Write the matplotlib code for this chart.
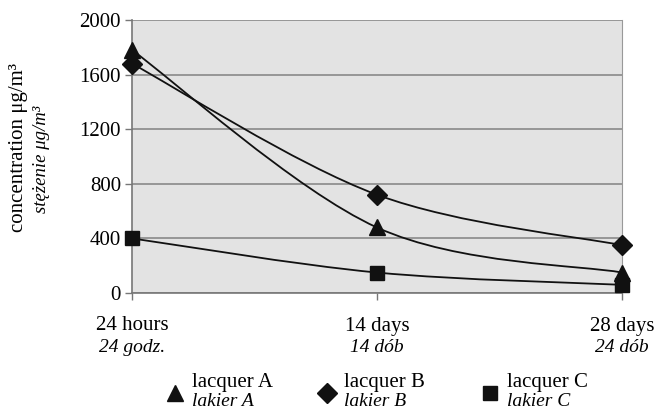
import matplotlib
matplotlib.use("Agg")
import matplotlib.pyplot as plt
from matplotlib.path import Path
from matplotlib.patches import PathPatch
from matplotlib.lines import Line2D

plt.rcParams['font.family'] = ['Liberation Serif', 'DejaVu Serif']

times = ["24 hours", "14 days", "28 days"]
times_pl = ["24 godz.", "14 dób", "24 dób"]
lacquer_a = [1780, 480, 150]
lacquer_b = [1680, 720, 350]
lacquer_c = [400, 150, 60]
names = ["lacquer A", "lacquer B", "lacquer C"]
names_pl = ["lakier A", "lakier B", "lakier C"]
markers = ["^", "D", "s"]
msizes = [12, 10, 10]


def smooth_path(xs, ys):
    # excel-style smoothed line: bezier segments with catmull-rom control points
    pts = list(zip(xs, ys))
    verts = [pts[0]]
    codes = [Path.MOVETO]
    for i in range(len(pts) - 1):
        p0 = pts[i - 1] if i > 0 else pts[i]
        p1 = pts[i]
        p2 = pts[i + 1]
        p3 = pts[i + 2] if i + 2 < len(pts) else pts[i + 1]
        c1 = (p1[0] + (p2[0] - p0[0]) / 6, p1[1] + (p2[1] - p0[1]) / 6)
        c2 = (p2[0] - (p3[0] - p1[0]) / 6, p2[1] - (p3[1] - p1[1]) / 6)
        verts += [c1, c2, p2]
        codes += [Path.CURVE4] * 3
    return Path(verts, codes)


fig = plt.figure(figsize=(6.57, 4.12), dpi=100)
ax = fig.add_axes([0.2009, 0.2888, 0.7458, 0.6627])
ax.set_facecolor('#e3e3e3')

x = list(range(len(times)))
for series, m, ms in zip([lacquer_a, lacquer_b, lacquer_c], markers, msizes):
    ax.add_patch(PathPatch(smooth_path(x, series), fill=False, edgecolor='#111111',
                           lw=1.3, zorder=3))
    ax.plot(x, series, linestyle='none', marker=m, markersize=ms, color='#111111',
            clip_on=False, zorder=4)

ax.set_xlim(0, 2)
ax.set_ylim(0, 2000)
ax.set_yticks(range(0, 2001, 400))
ax.set_yticklabels([str(v) for v in range(0, 2001, 400)], fontsize=15)
ax.set_xticks(x)
ax.set_xticklabels([])
ax.grid(axis='y', color='#8a8a8a', lw=1.2)
ax.set_axisbelow(True)
for s in ['left', 'bottom']:
    ax.spines[s].set_color('#777777')
    ax.spines[s].set_linewidth(1.2)
ax.spines['top'].set_visible(False)
ax.spines['right'].set_color('#999999')
ax.tick_params(axis='both', color='#777777', length=5, width=1, pad=3)

for i, (t, tp) in enumerate(zip(times, times_pl)):
    xf = 0.2009 + 0.7458 * i / 2
    fig.text(xf, 1 - 326 / 412, t, ha='center', va='center', fontsize=15)
    fig.text(xf, 1 - 347 / 412, tp, ha='center', va='center', fontsize=14, style='italic')

fig.text(19 / 657, 1 - 147 / 412, "concentration μg/m³", rotation=90,
         ha='center', va='center', fontsize=15)
fig.text(42 / 657, 1 - 159 / 412, "stężenie μg/m³", rotation=90,
         ha='center', va='center', fontsize=13.5, style='italic')

# legend drawn by hand under the chart
leg_x = [175, 327, 490]
for lx, m, ms, n, npl in zip(leg_x, markers, msizes, names, names_pl):
    fig.add_artist(Line2D([lx / 657], [1 - 393 / 412], marker=m, markersize=ms,
                          color='#111111', linestyle='none', transform=fig.transFigure))
    fig.text((lx + 17) / 657, 1 - 383 / 412, n, ha='left', va='center', fontsize=15)
    fig.text((lx + 17) / 657, 1 - 401 / 412, npl, ha='left', va='center', fontsize=14,
             style='italic')

fig.savefig("out.png", dpi=100)
